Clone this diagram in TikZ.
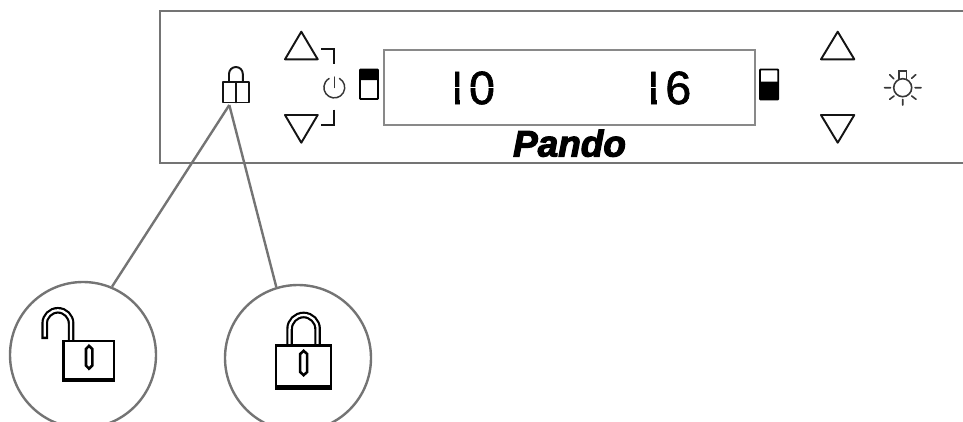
\documentclass[tikz,border=0pt]{standalone}
\usepackage{fontspec}
\setmainfont{Liberation Sans}
\newfontfamily\pandofont[FakeBold=3]{Liberation Sans Bold Italic}
\newfontfamily\lcdfont[FakeBold=1.5]{Liberation Sans}
\definecolor{rim}{HTML}{747474}
\definecolor{ink}{HTML}{141414}
\tikzset{
  x=0.75pt,y=-0.75pt,
  rimline/.style={draw=rim,line width=1.8pt},
  icon/.style={draw=ink,line width=1.45pt,line join=round,line cap=round},
  thinicon/.style={draw=ink!85,line width=1.1pt,line cap=round},
  battery/.style={draw=black,line width=1.4pt,rounded corners=0.6pt},
  lockbody/.style={draw=black,line width=1.9pt,fill=white},
  shackleout/.style={draw=black,line width=5pt},
  shacklein/.style={draw=white,line width=1.7pt},
  keyhole/.style={draw=black,line width=1.9pt,fill=white},
  lcd/.style={font=\lcdfont\fontsize{34.9pt}{35pt}\selectfont,inner sep=0pt,anchor=base east},
  segcut/.style={draw=white,line width=0.8pt},
  detail/.style={circle,draw=rim,line width=1.8pt,minimum size=109.5pt,inner sep=0pt,fill=white},
}
\begin{document}
\begin{tikzpicture}
\useasboundingbox (0,0) rectangle (963,421);
% panel
\draw[rimline] (964,11) -- (160,11) -- (160,163) -- (964,163);
% display
\draw[draw=rim!85,line width=1.1pt] (384,50) rectangle (755,125);
\node[lcd] (tempa) at (495.2,104) {10};
\node[lcd] (tempb) at (691.5,104) {16};
% segment look of the display digits
\fill[white] (444,66) rectangle (454.6,107);
\fill[white] (460.4,96) rectangle (469.5,107);
\fill[white] (640,66) rectangle (650.9,107);
\fill[white] (656.8,96) rectangle (665.8,107);
\draw[segcut] (452,87.5) -- (497,87.5);
\draw[segcut] (648,87.5) -- (660,87.5);
\node[font=\pandofont\fontsize{27.7pt}{28pt}\selectfont,inner sep=0pt,anchor=base] (brand) at (569.5,156.5) {Pando};
% left arrows and power
\draw[icon] (301.3,31.7) -- (317.7,59.3) -- (285,59.3) -- cycle;
\draw[icon] (301.3,142.7) -- (317.7,115) -- (285,115) -- cycle;
\draw[icon,line cap=butt,line join=miter] (321,49) -- (334.3,49) -- (334.3,64.3);
\draw[icon,line cap=butt,line join=miter] (334.3,109.7) -- (334.3,125.3) -- (321,125.3);
\draw[thinicon] (334.3,77) -- (334.3,87.5);
\draw[thinicon] (339.5,78.5) arc[start angle=300,end angle=600,radius=10.4];
% batteries
\fill[black,rounded corners=0.6pt] (360,69.5) rectangle (378,80);
\draw[battery] (360,69.5) rectangle (378,99);
\fill[black,rounded corners=0.6pt] (760,81.5) rectangle (778.3,99.5);
\draw[battery] (760,69.5) rectangle (778.3,99.5);
% right arrows
\draw[icon] (837.7,31.7) -- (854.3,59.3) -- (821,59.3) -- cycle;
\draw[icon] (837.7,142.7) -- (854.3,115) -- (821,115) -- cycle;
% lamp
\draw[thinicon,line width=1.2pt] (902.7,87.7) circle[radius=9];
\draw[thinicon,line width=1.2pt] (899,79) -- (899,71) -- (906.3,71) -- (906.3,79);
\draw[thinicon,line width=1.2pt]
  (884.5,87.7) -- (890.5,87.7) (915,87.7) -- (921,87.7) (902.7,99.5) -- (902.7,105)
  (889.7,74.7) -- (893.7,78.7) (911.7,78.3) -- (915.7,74.7)
  (889.7,99.3) -- (894,96) (911.7,96) -- (916,99.3);
% small padlock
\draw[icon] (222.7,82) rectangle (249,102.5);
\draw[icon] (235.8,82) -- (235.8,102.5);
\draw[icon] (229,82) -- (229,73.9) arc[start angle=180,end angle=360,radius=6.9] -- (242.8,82);
\coordinate (locktip) at (229.3,105);
% detail circles
\node[detail] (open) at (83,355) {};
\node[detail] (closed) at (298,358) {};
\draw[rimline] (locktip) -- (open.67);
\draw[rimline] (locktip) -- (closed.107);
% open padlock
\draw[shackleout,line cap=butt] (44.7,339) -- (44.7,323.5) arc[start angle=180,end angle=360,radius=13.2] -- (71.1,341);
\draw[shacklein,line cap=butt] (44.7,336.5) -- (44.7,323.5) arc[start angle=180,end angle=360,radius=13.2] -- (71.1,341);
\draw[lockbody] (63.5,341) rectangle (114,381);
\fill[black] (62.7,377.5) rectangle (114.7,381.8);
\draw[keyhole] (86,349) -- (89,345.8) -- (92.3,349) -- (92.3,365.5) -- (89,368.7) -- (86,365.5) -- cycle;
% closed padlock
\draw[shackleout,line cap=butt] (289.6,346) -- (289.6,329) arc[start angle=180,end angle=360,radius=14] -- (317.6,346);
\draw[shacklein,line cap=butt] (289.6,346) -- (289.6,329) arc[start angle=180,end angle=360,radius=14] -- (317.6,346);
\draw[lockbody] (276,345.5) rectangle (331,389);
\fill[black] (275.3,385) rectangle (331.7,389.5);
\draw[keyhole] (300.2,354) -- (303.6,350.8) -- (307.2,354) -- (307.2,372) -- (303.6,375.2) -- (300.2,372) -- cycle;
\end{tikzpicture}
\end{document}
